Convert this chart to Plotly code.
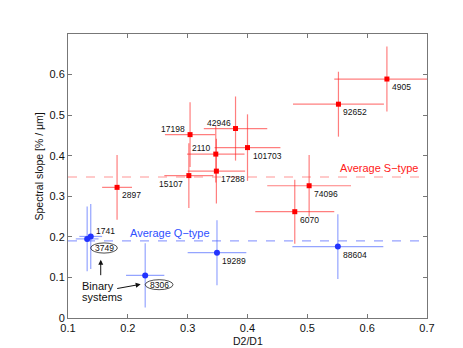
import plotly.graph_objects as go

# ---- data ----
s_names = ["4905", "92652", "17198", "42946", "2110", "101703", "17288", "15107", "2897", "74096", "6070"]
s_x = [0.633, 0.552, 0.304, 0.380, 0.347, 0.400, 0.348, 0.302, 0.182, 0.503, 0.479]
s_y = [0.589, 0.527, 0.452, 0.467, 0.404, 0.420, 0.362, 0.351, 0.322, 0.326, 0.262]
s_ex = [0.088, 0.076, 0.042, 0.053, 0.048, 0.055, 0.048, 0.041, 0.025, 0.070, 0.066]
s_ey = [0.080, 0.080, 0.080, 0.079, 0.070, 0.082, 0.080, 0.080, 0.080, 0.076, 0.079]
s_pos = ["br", "br", "tl", "tl", "tl", "br", "br", "bl", "br", "br", "br"]

q_names = ["1741", "3749", "19289", "88604", "8306"]
q_x = [0.138, 0.132, 0.349, 0.551, 0.229]
q_y = [0.201, 0.195, 0.161, 0.176, 0.105]
q_ex = [0.019, 0.019, 0.049, 0.076, 0.032]
q_ey = [0.080, 0.080, 0.080, 0.080, 0.079]
q_pos = ["tr", "ell", "br", "br", "ell"]

avg_s = 0.3475
avg_q = 0.19

x_ticks = [0.1, 0.2, 0.3, 0.4, 0.5, 0.6, 0.7]
y_ticks = [0, 0.1, 0.2, 0.3, 0.4, 0.5, 0.6]

FONT = "Liberation Sans, Arial, Helvetica, sans-serif"
RED = "#ff0000"
BLUE = "#2233ff"

fig = go.Figure()

fig.add_trace(go.Scatter(
    x=s_x, y=s_y, mode="markers",
    marker=dict(symbol="square", size=5, color=RED),
    error_x=dict(type="data", array=s_ex, color="rgba(255,40,40,0.6)", thickness=1.2, width=0),
    error_y=dict(type="data", array=s_ey, color="rgba(255,40,40,0.6)", thickness=1.2, width=0),
    showlegend=False, hoverinfo="skip"))

fig.add_trace(go.Scatter(
    x=q_x, y=q_y, mode="markers",
    marker=dict(symbol="circle", size=6, color=BLUE),
    error_x=dict(type="data", array=q_ex, color="rgba(60,90,255,0.55)", thickness=1.2, width=0),
    error_y=dict(type="data", array=q_ey, color="rgba(60,90,255,0.55)", thickness=1.2, width=0),
    showlegend=False, hoverinfo="skip"))

shapes = [
    dict(type="line", xref="paper", x0=0, x1=1, yref="y", y0=avg_s, y1=avg_s,
         line=dict(color="rgba(255,80,80,0.6)", width=1.2, dash="dash"), layer="below"),
    dict(type="line", xref="paper", x0=0, x1=1, yref="y", y0=avg_q, y1=avg_q,
         line=dict(color="rgba(80,100,255,0.6)", width=1.2, dash="dash"), layer="below"),
    # ellipses around binary-system labels
    dict(type="circle", xref="x", yref="y", x0=0.1379, x1=0.1825, y0=0.160, y1=0.185,
         line=dict(color="#222222", width=0.8)),
    dict(type="circle", xref="x", yref="y", x0=0.2290, x1=0.2755, y0=0.0698, y1=0.0944,
         line=dict(color="#222222", width=0.8)),
]

anns = []
lab_font = dict(family=FONT, size=8.5, color="#111111")


def place(name, x, y, pos):
    if pos == "br":
        return dict(x=x, y=y, text=name, showarrow=False, xanchor="left", yanchor="middle",
                    xshift=3, yshift=-8, font=lab_font)
    if pos == "tr":
        return dict(x=x, y=y, text=name, showarrow=False, xanchor="left", yanchor="middle",
                    xshift=3, yshift=5, font=lab_font)
    if pos == "tl":
        return dict(x=x, y=y, text=name, showarrow=False, xanchor="right", yanchor="middle",
                    xshift=-3, yshift=6, font=lab_font)
    if pos == "bl":
        return dict(x=x, y=y, text=name, showarrow=False, xanchor="right", yanchor="middle",
                    xshift=-4, yshift=-8, font=lab_font)
    return None


for n, x, y, p in zip(s_names, s_x, s_y, s_pos):
    anns.append(place(n, x, y, p))
for n, x, y, p in zip(q_names, q_x, q_y, q_pos):
    a = place(n, x, y, p)
    if a is not None:
        anns.append(a)

# labels inside ellipses
anns.append(dict(x=0.1602, y=0.1725, text=q_names[1], showarrow=False, xanchor="center",
                 yanchor="middle", font=lab_font))
anns.append(dict(x=0.2522, y=0.0821, text=q_names[4], showarrow=False, xanchor="center",
                 yanchor="middle", font=lab_font))

# Binary systems text + arrows
big = dict(family=FONT, size=11, color="#111111")
anns.append(dict(x=0.1206, y=0.0796, text="Binary", showarrow=False, xanchor="left",
                 yanchor="middle", font=big))
anns.append(dict(x=0.1206, y=0.0518, text="systems", showarrow=False, xanchor="left",
                 yanchor="middle", font=big))
anns.append(dict(x=0.1547, y=0.1437, text="", showarrow=True, ax=0, ay=17,
                 arrowhead=2, arrowsize=1, arrowwidth=1, arrowcolor="#111111"))
anns.append(dict(x=0.2215, y=0.0831, text="", showarrow=True, ax=-25, ay=4.5,
                 arrowhead=2, arrowsize=1, arrowwidth=1, arrowcolor="#111111"))

# averages
anns.append(dict(x=0.6883, y=0.3697, text="Average S\u2212type", showarrow=False,
                 xanchor="right", yanchor="middle",
                 font=dict(family=FONT, size=11, color="#ff2020")))
anns.append(dict(x=0.2003, y=0.2095, text="Average Q\u2212type", showarrow=False,
                 xanchor="left", yanchor="middle",
                 font=dict(family=FONT, size=11, color="#3050ff")))

# y axis title
anns.append(dict(xref="paper", yref="paper", x=-0.0808, y=0.5335, text="Spectral slope [% / \u03bcm]",
                 showarrow=False, textangle=-90, xanchor="center", yanchor="middle",
                 font=dict(family=FONT, size=10.5, color="#111111")))
# x axis title
anns.append(dict(xref="paper", yref="paper", x=0.5, y=-0.0800, text="D2/D1",
                 showarrow=False, xanchor="center", yanchor="middle",
                 font=dict(family=FONT, size=10.5, color="#111111")))

axis_common = dict(
    showgrid=False, zeroline=False, showline=True, linecolor="#777777", linewidth=1,
    mirror="ticks", ticks="inside", ticklen=4, tickcolor="#777777", tickwidth=1,
    tickfont=dict(family=FONT, size=11, color="#111111"),
)

fig.update_layout(
    width=463, height=348,
    margin=dict(l=60, r=44, t=26, b=38),
    paper_bgcolor="white", plot_bgcolor="white",
    xaxis=dict(range=[0.1, 0.7], tickvals=x_ticks, ticktext=[str(v) for v in x_ticks], **axis_common),
    yaxis=dict(range=[0, 0.7], tickvals=y_ticks, ticktext=[str(v) for v in y_ticks], **axis_common),
    shapes=shapes, annotations=anns,
)

fig.write_html("out.html")
